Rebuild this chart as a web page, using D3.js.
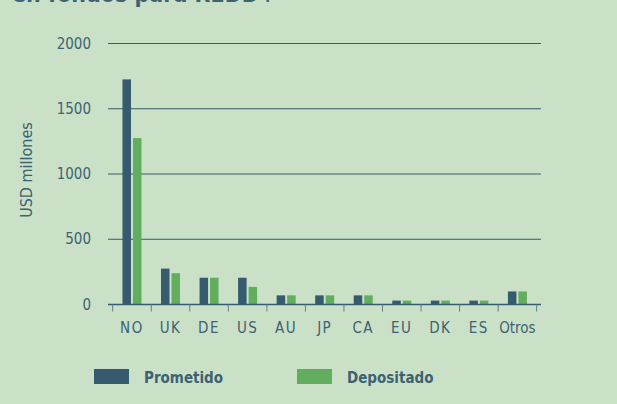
<!DOCTYPE html>
<html>
<head>
<meta charset="utf-8">
<script src="https://cdn.jsdelivr.net/npm/d3@7"></script>
<style>
  body { margin: 0; background: #cae1c7; }
  svg { display: block; }
  text { font-family: "DejaVu Sans Condensed", "DejaVu Sans", sans-serif; fill: #3d6273; }
</style>
</head>
<body>
<svg id="chart" width="617" height="404"></svg>
<script>
const countries = ["NO", "UK", "DE", "US", "AU", "JP", "CA", "EU", "DK", "ES", "Otros"];
const prometido = [1725, 275, 205, 205, 70, 70, 70, 30, 30, 30, 100];
const depositado = [1275, 240, 205, 135, 70, 70, 70, 30, 30, 30, 100];
const yTicks = [0, 500, 1000, 1500, 2000];
const seriesNames = ["Prometido", "Depositado"];
const colors = ["#365a6e", "#62ad5e"];

const svg = d3.select("#chart");

// title is cut off at top of the picture
svg.append("text")
  .attr("x", 12).attr("y", 2)
  .attr("font-size", 23).attr("font-weight", "bold")
  .text("en fondos para REDD+");

const x = d3.scaleBand().domain(countries).range([112.7, 536.7]);
const y = d3.scaleLinear().domain([0, 2000]).range([304.5, 43.5]);

// grid lines
svg.append("g").selectAll("line")
  .data(yTicks.filter(d => d > 0))
  .join("line")
  .attr("x1", 108).attr("x2", 541)
  .attr("y1", d => y(d)).attr("y2", d => y(d))
  .attr("stroke", "#365a6e").attr("stroke-width", 1);

// y tick labels
svg.append("g").selectAll("text")
  .data(yTicks)
  .join("text")
  .attr("x", 91).attr("y", d => y(d) + 5)
  .attr("text-anchor", "end")
  .attr("font-size", 15)
  .text(d => d);

svg.append("text")
  .attr("transform", "translate(32,170) rotate(-90)")
  .attr("text-anchor", "middle")
  .attr("font-size", 16)
  .text("USD millones");

// bars
const bw = 8.5;
const rows = countries.map((c, i) => ({ c, vals: [prometido[i], depositado[i]] }));
rows.forEach(r => {
  r.vals.forEach((v, j) => {
    svg.append("rect")
      .attr("x", x(r.c) + x.bandwidth() / 2 - bw - 1 + j * (bw + 2))
      .attr("y", y(v))
      .attr("width", bw)
      .attr("height", y(0) - y(v))
      .attr("fill", colors[j]);
  });
});

// baseline and category ticks
svg.append("line")
  .attr("x1", 108).attr("x2", 541)
  .attr("y1", y(0)).attr("y2", y(0))
  .attr("stroke", "#365a6e").attr("stroke-width", 1.5);

const bounds = countries.map(c => x(c)).concat([x.range()[1]]);
svg.append("g").selectAll("line")
  .data(bounds)
  .join("line")
  .attr("x1", d => d).attr("x2", d => d)
  .attr("y1", y(0)).attr("y2", y(0) + 7)
  .attr("stroke", "#5c7d88").attr("stroke-width", 1);

svg.append("g").selectAll("text")
  .data(countries)
  .join("text")
  .attr("x", d => x(d) + x.bandwidth() / 2)
  .attr("y", 333)
  .attr("text-anchor", "middle")
  .attr("font-size", 15)
  .attr("letter-spacing", d => d === "Otros" ? 0 : 1.5)
  .text(d => d);

// legend
const legX = [94, 297];
seriesNames.forEach((n, i) => {
  svg.append("rect")
    .attr("x", legX[i]).attr("y", 369)
    .attr("width", 35).attr("height", 15)
    .attr("fill", colors[i]);
  svg.append("text")
    .attr("x", legX[i] + 50).attr("y", 383)
    .attr("font-size", 15).attr("font-weight", "bold")
    .text(n);
});
</script>
</body>
</html>
